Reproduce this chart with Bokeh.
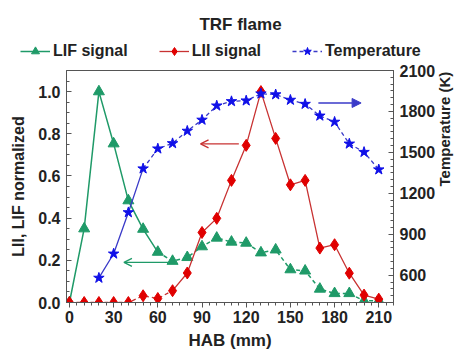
import math
from bokeh.plotting import figure
from bokeh.layouts import column
from bokeh.models import (Range1d, LinearAxis, FixedTicker, PrintfTickFormatter,
                          Legend, LegendItem, Arrow, OpenHead, NormalHead, Label)
from bokeh.embed import file_html
from bokeh.resources import INLINE

hab = [0, 10, 20, 30, 40, 50, 60, 70, 80, 90, 100, 110, 120, 130, 140, 150, 160, 170, 180, 190, 200, 210]
lif = [0.0, 0.35, 1.0, 0.753, 0.483, 0.348, 0.239, 0.196, 0.214, 0.265, 0.306, 0.287, 0.282, 0.236, 0.25, 0.156, 0.15, 0.064, 0.043, 0.043, 0.008, 0.008]
lii = [0.0, 0.0, 0.0, 0.0, 0.0, 0.032, 0.019, 0.056, 0.14, 0.332, 0.399, 0.579, 0.745, 1.0, 0.778, 0.558, 0.579, 0.258, 0.274, 0.139, 0.035, 0.016]
hab_t = [20, 30, 40, 50, 60, 70, 80, 90, 100, 110, 120, 130, 140, 150, 160, 170, 180, 190, 200, 210]
temp = [580, 757, 1060, 1381, 1527, 1566, 1657, 1738, 1842, 1874, 1879, 1930, 1924, 1884, 1854, 1768, 1723, 1563, 1502, 1374]

x_ticks = [0, 30, 60, 90, 120, 150, 180, 210]
y_ticks = [0.0, 0.2, 0.4, 0.6, 0.8, 1.0]
t_ticks = [600, 900, 1200, 1500, 1800, 2100]
series_names = ["LIF signal", "LII signal", "Temperature"]
title_text = "TRF flame"

GREEN = "#1f9a68"
RED_L = "#c83232"
RED_M = "#e00000"
BLUE_L = "#3a3ac8"
BLUE_M = "#1010e8"
FONT = "Liberation Sans"
DASH = "4 3"
TXT = "#222222"

# ---------- header (title + legend); data lie outside its visible range ----------
TOP_H = 62
head = figure(width=464, height=TOP_H, output_backend="svg", toolbar_location=None,
              x_range=Range1d(0, 464), y_range=Range1d(5000, 5000 + TOP_H),
              min_border=0, min_border_left=0, min_border_right=0, min_border_top=0, min_border_bottom=0)
head.frame_align = False
head.axis.visible = False
head.grid.visible = False
head.outline_line_color = None
head.add_layout(Label(x=240, y=5000 + TOP_H - 24, text=title_text, text_align="center", text_baseline="middle",
                      text_font=FONT, text_font_size="17px", text_font_style="bold", text_color=TXT))
hg1 = head.line(hab, lif, line_color=GREEN, line_width=1.5)
hg2 = head.scatter(hab, lif, marker="triangle", size=11, fill_color=GREEN, line_color=GREEN)
hr1 = head.line(hab, lii, line_color=RED_L, line_width=1.3)
hr2 = head.scatter(hab, lii, marker="diamond", size=12, fill_color=RED_M, line_color=RED_M)
hb1 = head.line(hab_t, temp, line_color=BLUE_L, line_width=1.3, line_dash=DASH)
hb2 = head.scatter(hab_t, temp, marker="star", size=11, fill_color=BLUE_M, line_color=BLUE_M)
legend = Legend(items=[LegendItem(label=series_names[0], renderers=[hg1, hg2]),
                       LegendItem(label=series_names[1], renderers=[hr1, hr2]),
                       LegendItem(label=series_names[2], renderers=[hb1, hb2])],
                orientation="horizontal", location=(20, 1))
legend.label_text_font = FONT
legend.label_text_font_size = "16px"
legend.label_text_font_style = "bold"
legend.label_text_color = TXT
legend.border_line_color = None
legend.background_fill_alpha = 0
legend.glyph_width = 30
legend.label_standoff = 3
legend.spacing = 31
legend.padding = 2
legend.margin = 0
head.add_layout(legend, "center")

# ---------- main plot ----------
p = figure(width=464, height=352 - TOP_H, output_backend="svg", toolbar_location=None,
           x_range=Range1d(-2, 220), y_range=Range1d(0, 1.1),
           min_border_left=66, min_border_right=68, min_border_bottom=50, min_border_top=8)
p.frame_align = False
p.extra_y_ranges = {"T": Range1d(400, 2100)}
p.xgrid.visible = False
p.ygrid.visible = False
p.outline_line_color = "#555555"
p.background_fill_color = "white"
p.border_fill_color = "white"

def style_axis(ax, inside=True):
    ax.axis_line_color = "#555555"
    ax.major_tick_line_color = "#555555"
    ax.minor_tick_line_color = "#555555"
    if inside:
        ax.major_tick_in = 5
        ax.major_tick_out = 0
        ax.minor_tick_in = 3
        ax.minor_tick_out = 0
    else:
        ax.major_tick_in = 0
        ax.major_tick_out = 5
        ax.minor_tick_in = 0
        ax.minor_tick_out = 3
    ax.major_label_standoff = 6
    ax.major_label_text_font = FONT
    ax.major_label_text_font_size = "16px"
    ax.major_label_text_font_style = "bold"
    ax.major_label_text_color = TXT
    ax.axis_label_text_font = FONT
    ax.axis_label_text_font_size = "16px"
    ax.axis_label_text_font_style = "bold"
    ax.axis_label_text_color = TXT

xa = p.xaxis[0]
xa.ticker = FixedTicker(ticks=x_ticks, minor_ticks=list(range(0, 221, 5)))
xa.axis_label = "HAB (mm)"
style_axis(xa, inside=False)
xa.axis_label_text_font_size = "17px"
xa.major_label_standoff = 3
xa.axis_label_standoff = 5

ya = p.yaxis[0]
ya.ticker = FixedTicker(ticks=y_ticks, minor_ticks=[i * 0.05 for i in range(23)])
ya.formatter = PrintfTickFormatter(format="%.1f")
ya.axis_label = "LII, LIF normalized"
style_axis(ya, inside=True)
ya.axis_label_standoff = 8

ta = LinearAxis(y_range_name="T", axis_label="Temperature (K)")
ta.ticker = FixedTicker(ticks=t_ticks, minor_ticks=list(range(400, 2101, 50)))
style_axis(ta, inside=True)
ta.axis_label_text_font_size = "15px"
ta.axis_label_orientation = math.pi / 2
ta.axis_label_standoff = 6
p.add_layout(ta, "right")

# LIF
p.line(hab[:7], lif[:7], line_color=GREEN, line_width=1.5)
p.line(hab[6:], lif[6:], line_color=GREEN, line_width=1.5, line_dash=DASH)
p.scatter(hab, lif, marker="triangle", size=11, fill_color=GREEN, line_color=GREEN)
# LII
p.line(hab[:8], lii[:8], line_color=RED_L, line_width=1.3, line_dash=DASH)
p.line(hab[7:], lii[7:], line_color=RED_L, line_width=1.3)
p.scatter(hab, lii, marker="diamond", size=12, fill_color=RED_M, line_color=RED_M)
# Temperature
p.line(hab_t[:4], temp[:4], line_color=BLUE_L, line_width=1.3, y_range_name="T")
p.line(hab_t[3:], temp[3:], line_color=BLUE_L, line_width=1.3, line_dash=DASH, y_range_name="T")
p.scatter(hab_t, temp, marker="star", size=11, fill_color=BLUE_M, line_color=BLUE_M, y_range_name="T")

# arrows
p.add_layout(Arrow(end=OpenHead(size=8, line_color=GREEN, line_width=1.3), x_start=67, y_start=0.19, x_end=37, y_end=0.19,
                   line_color=GREEN, line_width=1.3))
p.add_layout(Arrow(end=OpenHead(size=8, line_color=RED_L, line_width=1.3), x_start=115, y_start=0.752, x_end=89, y_end=0.752,
                   line_color=RED_L, line_width=1.3))
p.add_layout(Arrow(end=NormalHead(size=9, fill_color=BLUE_L, line_color=BLUE_L), x_start=169, y_start=0.946, x_end=198, y_end=0.946,
                   line_color=BLUE_L, line_width=1.5))

layout = column(head, p, spacing=0)
open("out.html", "w").write(file_html(layout, INLINE))
